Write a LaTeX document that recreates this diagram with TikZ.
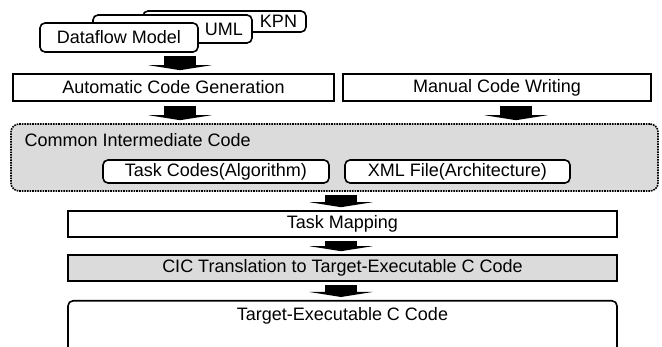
\documentclass[tikz,border=0pt]{standalone}
\usepackage{fontspec}
\setmainfont{Liberation Sans}
\usetikzlibrary{arrows.meta,positioning}

\begin{document}
\begin{tikzpicture}[x=1pt,y=-1pt,font=\fontsize{18}{21}\selectfont,
	box/.style={draw,line width=1.6pt,fill=white,inner sep=0pt},
	rbox/.style={box,rounded corners=5pt},
	gbox/.style={box,fill=black!14},
	fatarrow/.style={line width=32pt,-{Triangle[width=63pt,length=5pt,line width=0pt]}}]
	\clip (0,0) rectangle (662,347);
	\node[rbox,minimum height=21pt,text width=145pt,inner xsep=9pt,align=right] (kpn) at (224.5,21.5) {KPN};
	\node[rbox,minimum height=28pt,text width=141pt,inner xsep=9pt,align=right] (uml) at (172.5,29) {UML};
	\node[rbox,minimum width=158pt,minimum height=29pt] (dfm) at (119,37.5) {Dataflow Model};
	\node[box,minimum width=321pt,minimum height=27pt] (acg) at (173.5,87.5) {Automatic Code Generation};
	\node[box,minimum width=308pt,minimum height=27pt] (mcw) at (497,87.5) {Manual Code Writing};
	\node[box,fill=black!14,densely dotted,rounded corners=8pt,minimum width=647pt,minimum height=67pt] (cic) at (334.5,157.5) {};
	\node[anchor=west] (cictitle) at (21,140) {Common Intermediate Code};
	\node[rbox,minimum width=226pt,minimum height=23pt] (tcode) at (216,171.5) {Task Codes(Algorithm)};
	\node[rbox,minimum width=225pt,minimum height=23pt] (xml) at (457.5,171.5) {XML File(Architecture)};
	\node[box,minimum width=549pt,minimum height=26pt] (tmap) at (342.5,224) {Task Mapping};
	\node[gbox,minimum width=549pt,minimum height=26pt] (trans) at (342.5,268) {CIC Translation to Target-Executable C Code};
	\node[rbox,minimum width=549pt,minimum height=60pt,anchor=north,
		label={[anchor=north,yshift=-4pt]north:Target-Executable C Code}] (tgt) at (342.5,300) {};
	\draw[fatarrow] ([xshift=61pt,yshift=-3pt]dfm.south) -- ([xshift=6.5pt,yshift=3pt]acg.north);
	\draw[fatarrow] ([xshift=6.5pt,yshift=-4pt]acg.south) -- ([xshift=-154.5pt,yshift=3pt]cic.north);
	\draw[fatarrow] ([xshift=19pt,yshift=-4pt]mcw.south) -- ([xshift=181.5pt,yshift=3pt]cic.north);
	\draw[fatarrow] ([xshift=6.5pt,yshift=-3pt]cic.south) -- ([xshift=-1.5pt,yshift=3pt]tmap.north);
	\draw[fatarrow] ([xshift=-1.5pt,yshift=-3pt]tmap.south) -- ([xshift=-1.5pt,yshift=3pt]trans.north);
	\draw[fatarrow] ([xshift=-1.5pt,yshift=-3pt]trans.south) -- ([xshift=-1.5pt,yshift=3pt]tgt.north);
\end{tikzpicture}
\end{document}
